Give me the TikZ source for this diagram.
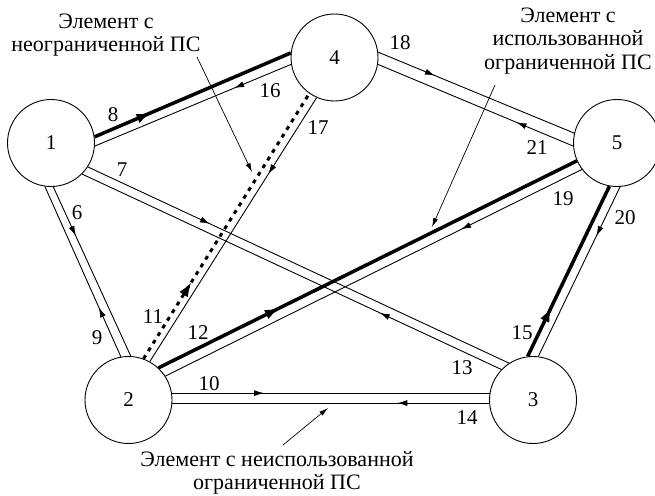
\documentclass[tikz,border=0pt]{standalone}
\usepackage{fontspec}
\setmainfont{Liberation Serif}
\usetikzlibrary{arrows.meta,decorations.markings}
\begin{document}
\begin{tikzpicture}[x=1pt,y=-1pt,
  vert/.style={circle,draw,line width=0.9pt,minimum size=87pt,inner sep=0pt,font=\fontsize{21}{24}\selectfont},
  thinedge/.style={line width=0.9pt},
  thickedge/.style={line width=3.5pt},
  dotedge/.style={line width=3pt,dash pattern=on 4pt off 5pt},
  arrowat/.style={postaction={decorate},decoration={markings,mark=at position #1 with {\arrow{Latex[length=10pt,width=6pt]}}}},
  bigarrowat/.style={postaction={decorate},decoration={markings,mark=at position #1 with {\arrow{Latex[length=15pt,width=10pt]}}}},
  lbl/.style={font=\fontsize{21}{24}\selectfont,inner sep=0pt},
  note/.style={align=center,font=\fontsize{22}{23.5}\selectfont,inner sep=0pt},
  pointer/.style={line width=0.7pt,-{Latex[length=9pt,width=5pt]}}
]
\useasboundingbox (0,0) rectangle (655,495);
\node[vert] (n1) at (51,143) {1};
\node[vert] (n4) at (334.5,57.5) {4};
\node[vert] (n5) at (617,143) {5};
\node[vert] (n2) at (128.5,400) {2};
\node[vert] (n3) at (533,400) {3};

\draw[thickedge,bigarrowat=0.29] (n1.8) -- (n4.174);
\draw[thinedge,arrowat=0.29] (n4.189) -- (n1.-4);
\draw[thinedge,arrowat=0.29] (n1.-33) -- (n3.123);
\draw[thinedge,arrowat=0.29] (n3.136) -- (n1.-45);
\draw[thinedge,arrowat=0.29] (n1.-87) -- (n2.87);
\draw[thinedge,arrowat=0.29] (n2.100) -- (n1.-98);
\draw[dotedge,bigarrowat=0.29] (n2.70) -- (n4.235);
\draw[thinedge,arrowat=0.29] (n4.246) -- (n2.61);
\draw[thickedge,bigarrowat=0.29] (n2.47) -- (n5.204);
\draw[thinedge,arrowat=0.29] (n5.217) -- (n2.33);
\draw[thinedge,arrowat=0.29] (n4.7) -- (n5.167);
\draw[thinedge,arrowat=0.29] (n5.184) -- (n4.-9);
\draw[thinedge,arrowat=0.29] (n5.274) -- (n3.83);
\draw[thickedge,bigarrowat=0.29] (n3.97) -- (n5.260);
\draw[thinedge,arrowat=0.29] (n2.9) -- (n3.171);
\draw[thinedge,arrowat=0.29] (n3.184) -- (n2.-4);

\node[lbl] (l8) at (113,115) {8};
\node[lbl] (l16) at (270,91) {16};
\node[lbl] (l7) at (122,170) {7};
\node[lbl] (l6) at (77,213) {6};
\node[lbl] (l17) at (318,128) {17};
\node[lbl] (l18) at (400,43) {18};
\node[lbl] (l21) at (537,148) {21};
\node[lbl] (l19) at (563,199) {19};
\node[lbl] (l20) at (625,218) {20};
\node[lbl] (l9) at (97,338) {9};
\node[lbl] (l11) at (153,317) {11};
\node[lbl] (l12) at (198,333) {12};
\node[lbl] (l10) at (209,384) {10};
\node[lbl] (l13) at (462,368) {13};
\node[lbl] (l14) at (467,418) {14};
\node[lbl] (l15) at (522,333) {15};

\node[note] (t1) at (106,35) {Элемент с\\неограниченной ПС};
\coordinate (t1s) at (197,57);
\coordinate (t1e) at (252,172);
\draw[pointer] (t1s) -- (t1e);
\node[note] (t2) at (568,41) {Элемент с\\использованной\\ограниченной ПС};
\coordinate (t2s) at (495,85);
\coordinate (t2e) at (432,227);
\draw[pointer] (t2s) -- (t2e);
\node[note] (t3) at (277,473) {Элемент с неиспользованной\\ограниченной ПС};
\coordinate (t3s) at (283,445);
\coordinate (t3e) at (328,408);
\draw[pointer] (t3s) -- (t3e);
\end{tikzpicture}
\end{document}
